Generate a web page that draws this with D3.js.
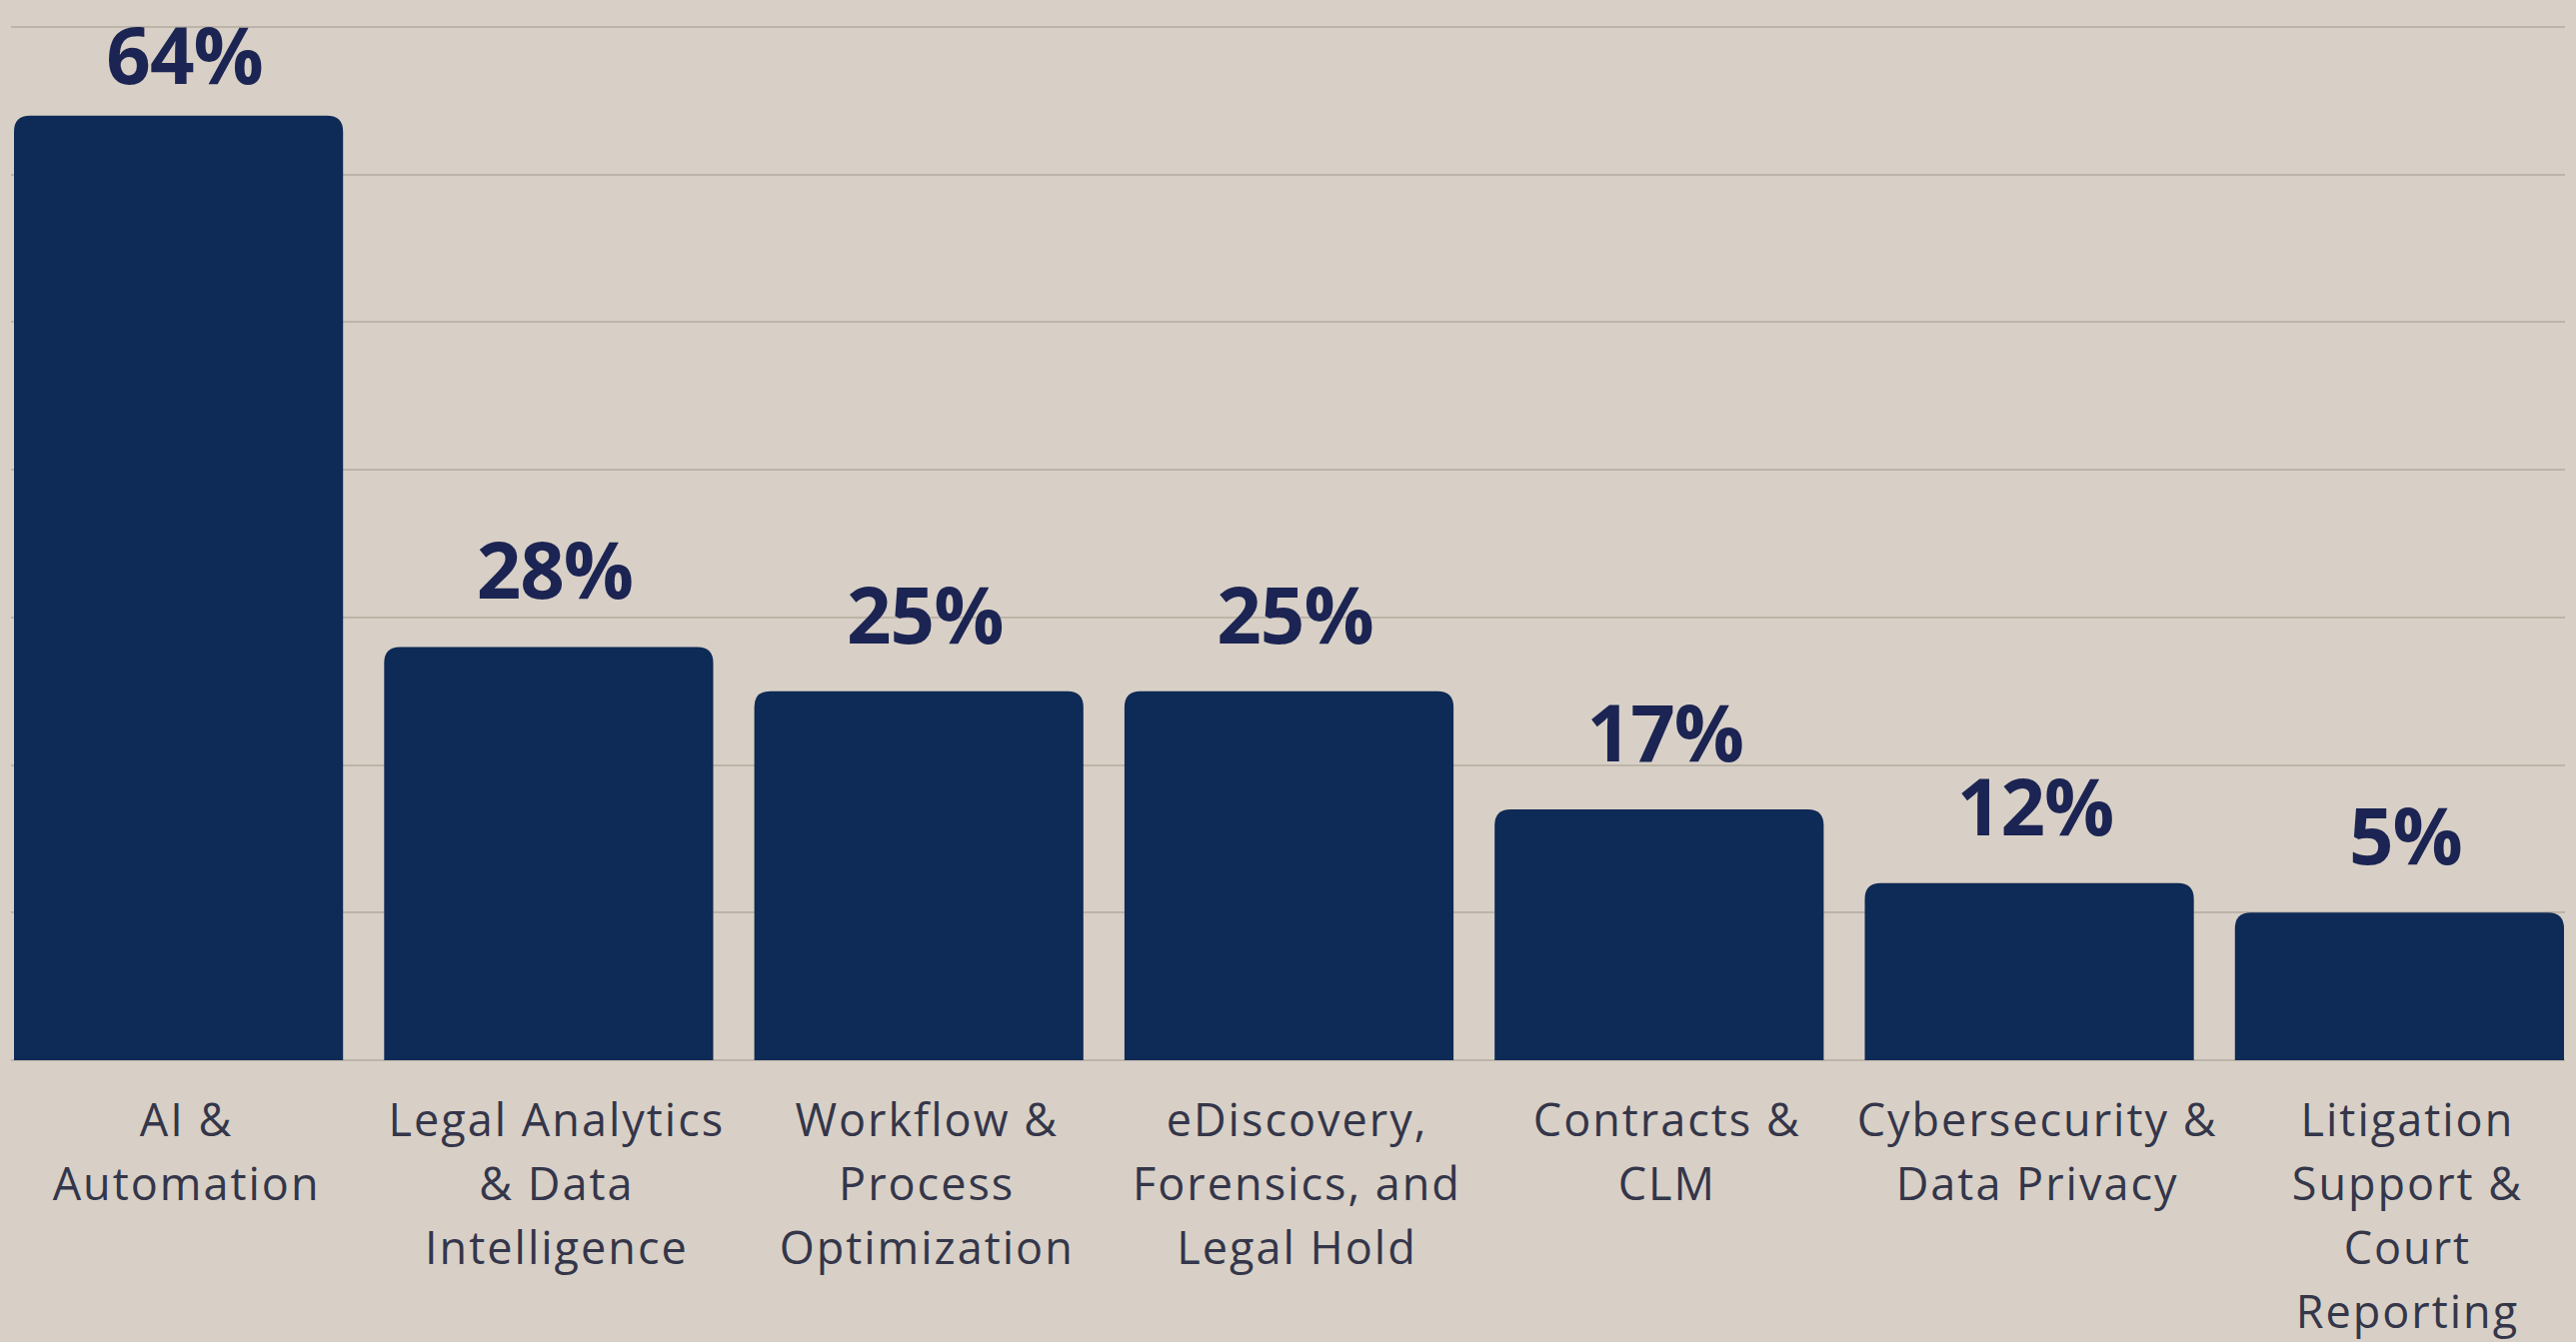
<!DOCTYPE html>
<meta charset="utf-8">
<style>
    body {
        margin: 0;
        background: #d8d0c6;
    }

    svg {
        display: block;
    }

    .grid line {
        stroke: #bdb4a9;
        stroke-width: 2.5;
        shape-rendering: crispEdges;
    }
</style>
<body>
<script src="https://cdn.jsdelivr.net/npm/d3@7"></script>
<script>
    const categories = [
        ["AI &", "Automation"],
        ["Legal Analytics", "& Data", "Intelligence"],
        ["Workflow &", "Process", "Optimization"],
        ["eDiscovery,", "Forensics, and", "Legal Hold"],
        ["Contracts &", "CLM"],
        ["Cybersecurity &", "Data Privacy"],
        ["Litigation", "Support &", "Court", "Reporting"]
    ];
    // printed percentages
    const values = [64, 28, 25, 25, 17, 12, 5];
    // bar heights as drawn in the source (5% bar is drawn at about the 10 line)
    const drawnValues = [64, 28, 25, 25, 17, 12, 10];
    const gridTicks = [0, 10, 20, 30, 40, 50, 60, 70];

    const width = 2577;
    const height = 1343;
    const baseline = 1061;

    const svg = d3.select("body")
        .append("svg")
        .attr("width", width)
        .attr("height", height);

    const x = d3.scaleBand()
        .domain(d3.range(values.length))
        .range([14, 2565])
        .paddingInner(0.111)
        .paddingOuter(0);

    const y = d3.scaleLinear()
        .domain([0, 70])
        .range([baseline, 27]);

    // grid lines
    svg.append("g")
        .attr("class", "grid")
        .selectAll("line")
        .data(gridTicks)
        .enter().append("line")
        .attr("x1", 11)
        .attr("x2", 2566)
        .attr("y1", d => Math.round(y(d)))
        .attr("y2", d => Math.round(y(d)));

    // bars with rounded top corners
    function barPath(x0, w, top, bottom, r) {
        return "M" + x0 + "," + bottom +
            "V" + (top + r) +
            "Q" + x0 + "," + top + " " + (x0 + r) + "," + top +
            "H" + (x0 + w - r) +
            "Q" + (x0 + w) + "," + top + " " + (x0 + w) + "," + (top + r) +
            "V" + bottom + "Z";
    }

    svg.append("g")
        .selectAll("path")
        .data(drawnValues)
        .enter().append("path")
        .attr("d", (d, i) => barPath(x(i), x.bandwidth(), y(d), y(0), 16))
        .style("fill", "#0e2a56");

    // value labels
    svg.append("g")
        .selectAll("text")
        .data(values)
        .enter().append("text")
        .attr("x", (d, i) => x(i) + x.bandwidth() / 2 + 6)
        .attr("y", (d, i) => Math.max(y(drawnValues[i]) - 48, 84))
        .style("text-anchor", "middle")
        .style("font-family", "'Open Sans', sans-serif")
        .style("font-weight", 700)
        .style("font-size", "78px")
        .style("letter-spacing", "-1px")
        .style("fill", "#1b2452")
        .text(d => d + "%");

    // category labels
    const cat = svg.append("g")
        .selectAll("text")
        .data(categories)
        .enter().append("text")
        .attr("x", (d, i) => x(i) + x.bandwidth() / 2 + 8)
        .attr("y", 1137)
        .style("text-anchor", "middle")
        .style("font-family", "'Open Sans', sans-serif")
        .style("font-weight", 400)
        .style("font-size", "45px")
        .style("letter-spacing", "2px")
        .style("fill", "#34364a");

    cat.selectAll("tspan")
        .data(d => d)
        .enter().append("tspan")
        .attr("x", function() { return d3.select(this.parentNode).attr("x"); })
        .attr("dy", (d, i) => i === 0 ? 0 : 64)
        .text(d => d);
</script>
</body>
</html>
